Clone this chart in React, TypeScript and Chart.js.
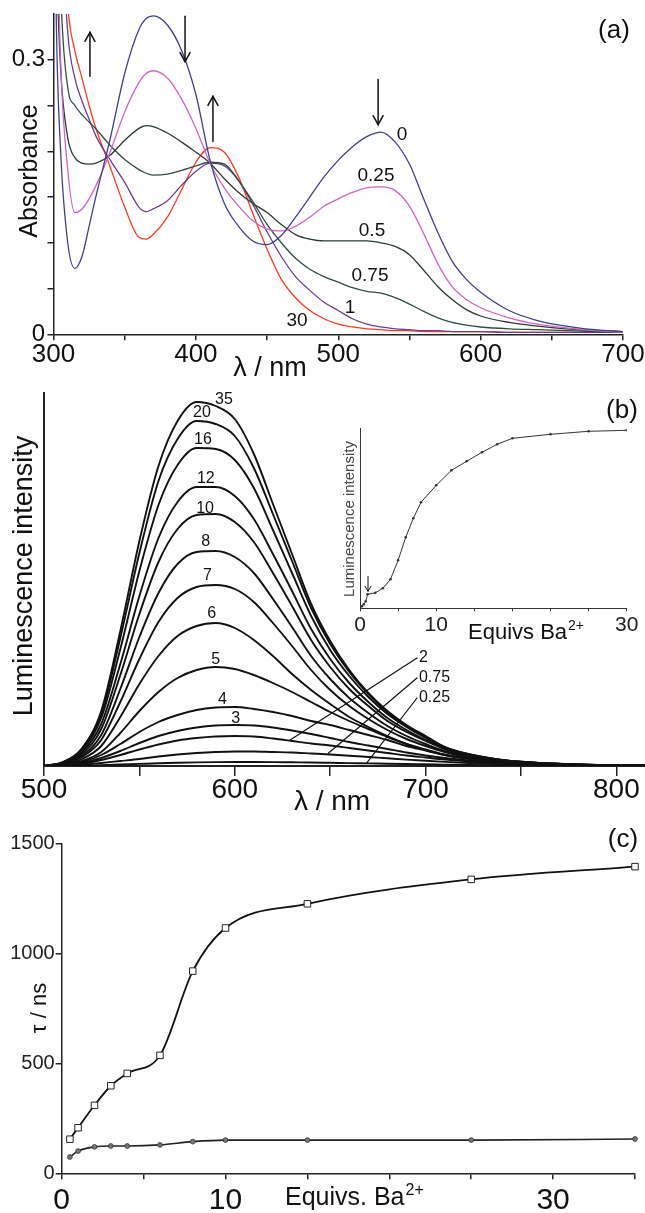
import { useEffect, useRef } from 'react';
import { Chart, registerables } from 'chart.js';

Chart.register(...registerables);

const FONT = '"Liberation Sans", Arial, Helvetica, sans-serif';
Chart.defaults.font.family = FONT;
const AXIS = '#222';
const TXT = '#111';

// ---------------- Panel (a): absorbance ----------------
const absWavelengths = [300, 302, 305, 310, 315, 320, 325, 330, 340, 350, 360, 365, 370, 380, 390, 400, 410, 420, 430, 440, 450, 460, 470, 480, 490, 500, 510, 520, 530, 540, 550, 560, 570, 580, 590, 600, 620, 640, 660, 680, 700];
const abs0 = [0.6, 0.34, 0.2, 0.1, 0.072, 0.085, 0.118, 0.152, 0.215, 0.285, 0.333, 0.345, 0.348, 0.338, 0.31, 0.262, 0.19, 0.143, 0.118, 0.102, 0.098, 0.108, 0.128, 0.15, 0.172, 0.19, 0.205, 0.216, 0.221, 0.21, 0.186, 0.148, 0.111, 0.08, 0.06, 0.046, 0.026, 0.015, 0.009, 0.005, 0.003];
const abs025 = [0.8, 0.5, 0.3, 0.18, 0.133, 0.137, 0.148, 0.163, 0.2, 0.243, 0.275, 0.285, 0.288, 0.28, 0.257, 0.225, 0.187, 0.16, 0.14, 0.124, 0.115, 0.113, 0.118, 0.128, 0.14, 0.148, 0.155, 0.16, 0.161, 0.157, 0.14, 0.11, 0.077, 0.052, 0.038, 0.029, 0.018, 0.011, 0.007, 0.004, 0.002];
const abs05 = [0.6, 0.42, 0.29, 0.215, 0.193, 0.187, 0.186, 0.187, 0.196, 0.212, 0.225, 0.228, 0.227, 0.22, 0.21, 0.199, 0.187, 0.17, 0.155, 0.143, 0.133, 0.12, 0.109, 0.104, 0.102, 0.102, 0.102, 0.102, 0.1, 0.096, 0.087, 0.07, 0.052, 0.038, 0.027, 0.02, 0.013, 0.009, 0.006, 0.004, 0.003];
const abs075 = [0.9, 0.6, 0.38, 0.27, 0.25, 0.24, 0.232, 0.224, 0.206, 0.191, 0.18, 0.176, 0.174, 0.175, 0.179, 0.184, 0.188, 0.186, 0.168, 0.145, 0.12, 0.1, 0.083, 0.071, 0.063, 0.057, 0.051, 0.047, 0.045, 0.04, 0.033, 0.025, 0.018, 0.013, 0.01, 0.008, 0.006, 0.005, 0.004, 0.003, 0.002];
const abs1 = [0.9, 0.7, 0.48, 0.33, 0.28, 0.255, 0.235, 0.216, 0.19, 0.166, 0.139, 0.134, 0.137, 0.146, 0.163, 0.178, 0.187, 0.184, 0.168, 0.142, 0.112, 0.085, 0.063, 0.048, 0.035, 0.026, 0.017, 0.011, 0.008, 0.006, 0.005, 0.004, 0.004, 0.003, 0.003, 0.003, 0.002, 0.002, 0.002, 0.002, 0.002];
const abs30 = [0.9, 0.7, 0.52, 0.36, 0.31, 0.28, 0.25, 0.224, 0.182, 0.139, 0.106, 0.104, 0.109, 0.128, 0.158, 0.188, 0.204, 0.199, 0.172, 0.132, 0.093, 0.06, 0.04, 0.026, 0.017, 0.011, 0.008, 0.006, 0.005, 0.004, 0.004, 0.003, 0.003, 0.003, 0.003, 0.003, 0.002, 0.002, 0.002, 0.002, 0.002];
const absLabels = ['0', '0.25', '0.5', '0.75', '1', '30'];

// ---------------- Panel (b): luminescence spectra ----------------
const lumWavelengths = [500, 510, 520, 530, 540, 550, 560, 570, 580, 590, 600, 610, 620, 630, 640, 650, 660, 670, 680, 690, 700, 710, 720, 740, 760, 780, 815];
const lum35 = [0, 4, 18, 55, 135, 225, 300, 345, 364, 360, 347, 312, 262, 212, 162, 125, 96, 73, 55, 41, 30, 19, 13, 6, 3, 1.5, 0.5];
const lum20 = [0, 4, 17, 52, 128, 213, 285, 327, 345, 342, 330, 298, 252, 205, 158, 122, 94, 72, 54, 40, 29, 19, 13, 6, 3, 1.5, 0.5];
const lum16 = [0, 3.5, 16, 48, 117, 195, 261, 301, 318, 317, 306, 278, 236, 193, 150, 116, 90, 69, 52, 39, 28, 18.5, 12.5, 6, 3, 1.5, 0.5];
const lum12 = [0, 3, 14, 42, 102, 170, 228, 264, 279, 279, 270, 247, 212, 175, 137, 107, 83, 64, 48, 36, 26, 17.5, 12, 5.5, 3, 1.5, 0.5];
const lum10 = [0, 3, 12.5, 37, 91, 152, 204, 237, 251, 252, 244, 224, 193, 160, 126, 99, 77, 60, 45, 34, 25, 17, 11.5, 5.5, 2.8, 1.4, 0.5];
const lum8 = [0, 2.5, 10.5, 31, 77, 129, 173, 202, 214, 215, 209, 193, 167, 139, 110, 87, 68, 53, 40, 30, 22, 15, 10.5, 5, 2.6, 1.3, 0.5];
const lum7 = [0, 2, 9, 26, 64, 107, 144, 168, 179, 181, 177, 164, 143, 120, 96, 76, 60, 47, 36, 27, 20, 14, 9.5, 4.5, 2.4, 1.2, 0.4];
const lum6 = [0, 1.5, 7, 20, 49, 82, 110, 130, 140, 143, 138, 126, 110, 92, 76, 62, 49, 39, 30, 22, 16, 11, 8, 4, 2, 1, 0.4];
const lum5 = [0, 1.2, 5, 14, 33, 55, 74, 88, 96, 99, 97, 91, 83, 74, 64, 54, 45, 37, 29, 22, 16.5, 11.5, 8, 4, 2, 1, 0.4];
const lum4 = [0, 1, 4, 11, 22, 34, 44, 51, 56, 58.5, 59, 57, 54, 50, 45, 41, 36, 31, 26, 20, 15.5, 11, 8, 4, 2, 1, 0.4];
const lum3 = [0, 0.8, 3, 8, 15, 23, 30, 35, 38.5, 40.5, 41, 40.5, 38.5, 35.5, 32, 28, 24, 20.5, 17, 13.5, 10.5, 8, 6, 3, 1.6, 0.8, 0.3];
const lum2 = [0, 0.6, 2.2, 6, 11, 16.5, 21.5, 25.5, 28, 29.5, 30, 29.5, 27.5, 25, 22.5, 20.5, 18, 15.5, 13, 10.5, 8.5, 6.5, 5, 2.5, 1.3, 0.7, 0.3];
const lum075 = [0, 0.4, 1.3, 3, 5, 7, 9.5, 11.5, 13, 14, 14.5, 14.5, 14, 13.5, 12.5, 11.5, 10.3, 9, 7.7, 6.4, 5.2, 4.1, 3.2, 1.8, 1, 0.5, 0.2];
const lum025 = [0, 0.1, 0.4, 0.9, 1.5, 2.1, 2.7, 3.2, 3.6, 3.9, 4, 4, 3.9, 3.7, 3.5, 3.2, 2.9, 2.6, 2.3, 2, 1.7, 1.4, 1.1, 0.7, 0.4, 0.2, 0.1];
const lumLabels = ['35', '20', '16', '12', '10', '8', '7', '6', '5', '4', '3', '2', '0.75', '0.25'];

// inset: peak intensity vs equivalents
const insetEquivs = [0, 0.25, 0.5, 0.75, 1, 2, 3, 4, 5, 6, 7, 8, 10, 12, 14, 16, 18, 20, 25, 30, 35];
const insetIntensity = [0, 2, 4, 7, 14, 15.5, 20, 29, 48, 71, 90, 106, 123, 138, 147, 156, 164, 170, 174, 177, 178];

// ---------------- Panel (c): lifetimes ----------------
const cEquivs = [0.5, 1, 2, 3, 4, 6, 8, 10, 15, 25, 35];
const tauLong = [155, 207, 309, 398, 454, 536, 919, 1115, 1225, 1336, 1394];
const tauShort = [74, 101, 120, 124, 124, 129, 144, 151, 151, 151, 156];

const toXY = (xs: number[], ys: number[]) => xs.map((x, i) => ({ x, y: ys[i] }));

function fixBox(prop: 'width' | 'height', size: number) {
  return (scale: any) => {
    scale[prop] = size;
    scale.paddingLeft = 0;
    scale.paddingRight = 0;
    scale.paddingTop = 0;
    scale.paddingBottom = 0;
  };
}

type Item = {
  type: 'text' | 'line' | 'arrow';
  data?: boolean;
  text?: string;
  sup?: string;
  x?: number; y?: number;
  x1?: number; y1?: number; x2?: number; y2?: number;
  size?: number; supSize?: number; supRise?: number;
  align?: CanvasTextAlign; baseline?: CanvasTextBaseline;
  rotate?: number; color?: string; width?: number; head?: number; headW?: number;
};

function overlay(items: Item[]) {
  return {
    id: 'overlay',
    afterDraw(chart: any) {
      const ctx: CanvasRenderingContext2D = chart.ctx;
      const sx = chart.scales.x;
      const sy = chart.scales.y;
      const P = (it: Item, x: number, y: number) =>
        it.data ? [sx.getPixelForValue(x), sy.getPixelForValue(y)] : [x, y];
      ctx.save();
      for (const it of items) {
        const color = it.color || TXT;
        ctx.strokeStyle = color;
        ctx.fillStyle = color;
        if (it.type === 'line' || it.type === 'arrow') {
          const [x1, y1] = P(it, it.x1!, it.y1!);
          const [x2, y2] = P(it, it.x2!, it.y2!);
          ctx.lineWidth = it.width || 1.2;
          ctx.lineCap = 'round';
          ctx.beginPath();
          ctx.moveTo(x1, y1);
          ctx.lineTo(x2, y2);
          ctx.stroke();
          if (it.type === 'arrow') {
            const ang = Math.atan2(y2 - y1, x2 - x1);
            const L = it.head || 9;
            const W = it.headW || 5;
            const bx = x2 - L * Math.cos(ang);
            const by = y2 - L * Math.sin(ang);
            const nx = -Math.sin(ang) * W;
            const ny = Math.cos(ang) * W;
            ctx.beginPath();
            ctx.moveTo(bx + nx, by + ny);
            ctx.lineTo(x2, y2);
            ctx.lineTo(bx - nx, by - ny);
            ctx.stroke();
          }
        } else {
          const [x, y] = P(it, it.x!, it.y!);
          ctx.save();
          ctx.translate(x, y);
          if (it.rotate) ctx.rotate(it.rotate);
          ctx.font = `${it.size || 16}px ${FONT}`;
          ctx.textAlign = it.align || 'center';
          ctx.textBaseline = it.baseline || 'middle';
          ctx.fillText(it.text!, 0, 0);
          if (it.sup) {
            const w = ctx.measureText(it.text!).width;
            ctx.font = `${it.supSize || 12}px ${FONT}`;
            ctx.textAlign = 'left';
            ctx.fillText(it.sup, w + 1, -(it.supRise || 8));
          }
          ctx.restore();
        }
      }
      ctx.restore();
    },
  };
}

const baseOptions = (padding: any) => ({
  responsive: false,
  animation: false as const,
  events: [] as any[],
  layout: { padding },
  plugins: { legend: { display: false }, tooltip: { enabled: false } },
});

// ---------- annotation layouts ----------
const itemsA: Item[] = [
  { type: 'text', text: 'Absorbance', x: 30, y: 171, rotate: -Math.PI / 2, size: 25 },
  { type: 'text', text: 'λ / nm', x: 270, y: 376, size: 27, baseline: 'alphabetic' },
  { type: 'text', text: '(a)', x: 614, y: 31, size: 26 },
  { type: 'text', data: true, text: absLabels[0], x: 544.8, y: 0.218, size: 19 },
  { type: 'text', data: true, text: absLabels[1], x: 526.5, y: 0.173, size: 19 },
  { type: 'text', data: true, text: absLabels[2], x: 523.7, y: 0.113, size: 19 },
  { type: 'text', data: true, text: absLabels[3], x: 522.3, y: 0.064, size: 19 },
  { type: 'text', data: true, text: absLabels[4], x: 508.2, y: 0.029, size: 19 },
  { type: 'text', data: true, text: absLabels[5], x: 471, y: 0.0146, size: 19 },
  { type: 'arrow', data: true, x1: 325.6, y1: 0.282, x2: 325.6, y2: 0.33, width: 1.5 },
  { type: 'arrow', data: true, x1: 392.4, y1: 0.3475, x2: 392.4, y2: 0.298, width: 1.5 },
  { type: 'arrow', data: true, x1: 412, y1: 0.2106, x2: 412, y2: 0.26, width: 1.5 },
  { type: 'arrow', data: true, x1: 528, y1: 0.2785, x2: 528, y2: 0.229, width: 1.5 },
];

const lumLabelPos = [
  [594.3, 366], [582.8, 353], [583.3, 326], [584.8, 287], [584.4, 257], [584.8, 224],
  [585.7, 190.5], [587.9, 152], [590, 106], [593.5, 66], [600.5, 47],
];
const leaderPos = [
  [629, 26, 695.5, 108],
  [649, 12.7, 695.5, 88],
  [669, 2.7, 695.5, 68],
];

const itemsB: Item[] = [
  { type: 'text', text: 'Luminescence intensity', x: 25, y: 191, rotate: -Math.PI / 2, size: 27 },
  { type: 'text', text: 'λ / nm', x: 332, y: 425, size: 28, baseline: 'alphabetic' },
  { type: 'text', text: '(b)', x: 622, y: 26, size: 26 },
  ...lumLabelPos.map((p, i) => ({ type: 'text' as const, data: true, text: lumLabels[i], x: p[0], y: p[1], size: 16 })),
  ...leaderPos.map((l) => ({ type: 'line' as const, data: true, x1: l[0], y1: l[1], x2: l[2], y2: l[3], width: 1.2 })),
  ...leaderPos.map((l, i) => ({ type: 'text' as const, data: true, text: lumLabels[11 + i], x: l[2] + 1, y: l[3], size: 16, align: 'left' as CanvasTextAlign })),
];

const itemsInset: Item[] = [
  { type: 'text', text: 'Luminescence intensity', x: 20, y: 104, rotate: -Math.PI / 2, size: 15, color: '#444' },
  { type: 'text', text: 'Equivs Ba', sup: '2+', x: 138, y: 224, align: 'left', baseline: 'alphabetic', size: 22, supSize: 14, supRise: 9 },
  { type: 'arrow', data: true, x1: 1.05, y1: 32, x2: 1.05, y2: 17, width: 1, head: 5, headW: 3 },
];

const itemsC: Item[] = [
  { type: 'text', text: 'τ / ns', x: 40, y: 186, rotate: -Math.PI / 2, size: 22 },
  { type: 'text', text: 'Equivs. Ba', sup: '2+', x: 285, y: 383, align: 'left', baseline: 'alphabetic', size: 25, supSize: 16, supRise: 10 },
  { type: 'text', text: '(c)', x: 623, y: 18, size: 26 },
];

// ---------- chart builders ----------
function buildA() {
  const series = [
    { y: abs0, color: '#3f3f8f' },
    { y: abs025, color: '#d064c8' },
    { y: abs05, color: '#2b3a33' },
    { y: abs075, color: '#2f4f3c' },
    { y: abs1, color: '#6a3d8f' },
    { y: abs30, color: '#ff3b1f' },
  ];
  return {
    type: 'line',
    data: {
      datasets: series.map((s, i) => ({
        label: absLabels[i],
        data: toXY(absWavelengths, s.y),
        borderColor: s.color,
        borderWidth: 1.3,
        pointRadius: 0,
        cubicInterpolationMode: 'monotone',
        fill: false,
      })),
    },
    options: {
      ...baseOptions({ left: 0, top: 14, right: 22, bottom: 0 }),
      scales: {
        x: {
          type: 'linear', min: 300, max: 700,
          afterFit: fixBox('height', 50.7),
          border: { display: true, color: AXIS, width: 1.5 },
          grid: { drawOnChartArea: false, drawTicks: true, tickLength: 6, color: AXIS, lineWidth: 1.5 },
          ticks: {
            stepSize: 50, includeBounds: false, autoSkip: false, maxRotation: 0, padding: 2, color: TXT,
            font: { size: 26, lineHeight: 1 },
            callback: (v: number) => (v % 100 === 0 ? String(v) : ''),
          },
        },
        y: {
          type: 'linear', min: 0, max: 0.35,
          afterFit: fixBox('width', 53.5),
          border: { display: true, color: AXIS, width: 1.5 },
          grid: {
            drawOnChartArea: false, drawTicks: true, tickLength: 6, lineWidth: 1.5,
            color: (c: any) => (c.tick && c.tick.value > 0.34 ? 'rgba(0,0,0,0)' : AXIS),
          },
          ticks: {
            stepSize: 0.05, includeBounds: false, autoSkip: false, padding: 2.5, color: TXT,
            font: { size: 24, lineHeight: 1 },
            callback: (v: number) => (Math.abs(v) < 1e-9 ? '0' : Math.abs(v - 0.3) < 1e-9 ? '0.3' : ''),
          },
        },
      },
    },
    plugins: [overlay(itemsA)],
  };
}

function buildB() {
  const series = [lum35, lum20, lum16, lum12, lum10, lum8, lum7, lum6, lum5, lum4, lum3, lum2, lum075, lum025];
  return {
    type: 'line',
    data: {
      datasets: series.map((s, i) => ({
        label: lumLabels[i],
        data: toXY(lumWavelengths, s),
        borderColor: '#111',
        borderWidth: 1.9,
        pointRadius: 0,
        cubicInterpolationMode: 'monotone',
        fill: false,
      })),
    },
    options: {
      ...baseOptions({ left: 0, top: 8, right: 0, bottom: 0 }),
      scales: {
        x: {
          type: 'linear', min: 500, max: 815,
          afterFit: fixBox('height', 56),
          border: { display: true, color: AXIS, width: 2 },
          grid: { drawOnChartArea: false, drawTicks: true, tickLength: 10, color: AXIS, lineWidth: 1.5 },
          ticks: {
            stepSize: 50, includeBounds: false, autoSkip: false, maxRotation: 0, padding: 0, color: TXT,
            font: { size: 28, lineHeight: 1 },
            callback: (v: number) => (v % 100 === 0 ? String(v) : ''),
          },
        },
        y: {
          type: 'linear', min: 0, max: 373,
          afterFit: fixBox('width', 44),
          border: { display: true, color: AXIS, width: 2 },
          grid: { display: false },
          ticks: { display: false },
        },
      },
    },
    plugins: [overlay(itemsB)],
  };
}

function buildInset() {
  return {
    type: 'line',
    data: {
      datasets: [{
        label: 'inset',
        data: toXY(insetEquivs, insetIntensity),
        borderColor: '#333',
        borderWidth: 1,
        pointRadius: 1.3,
        pointBackgroundColor: '#333',
        pointBorderWidth: 0,
        tension: 0,
        fill: false,
      }],
    },
    options: {
      ...baseOptions({ left: 0, top: 13.3, right: 18.3, bottom: 0 }),
      scales: {
        x: {
          type: 'linear', min: 0, max: 35,
          afterFit: fixBox('height', 41.7),
          border: { display: true, color: '#333', width: 1 },
          grid: { drawOnChartArea: false, drawTicks: true, tickLength: 3, color: '#333', lineWidth: 1 },
          ticks: {
            stepSize: 5, includeBounds: false, autoSkip: false, maxRotation: 0, padding: 3, color: '#222',
            font: { size: 21, lineHeight: 1 },
            callback: (v: number) => (v === 0 ? '0' : v === 10 ? '10' : v === 35 ? '30' : ''),
          },
        },
        y: {
          type: 'linear', min: 0, max: 180,
          afterFit: fixBox('width', 30),
          border: { display: true, color: '#333', width: 1 },
          grid: { display: false },
          ticks: { display: false },
        },
      },
    },
    plugins: [overlay(itemsInset)],
  };
}

function buildC() {
  return {
    type: 'line',
    data: {
      datasets: [
        {
          label: 'long',
          data: toXY(cEquivs, tauLong),
          borderColor: '#111',
          borderWidth: 1.8,
          pointStyle: 'rect',
          pointRadius: 4.6,
          pointBackgroundColor: '#fff',
          pointBorderColor: '#222',
          pointBorderWidth: 1,
          cubicInterpolationMode: 'monotone',
          fill: false,
          clip: false,
        },
        {
          label: 'short',
          data: toXY(cEquivs, tauShort),
          borderColor: '#222',
          borderWidth: 1.6,
          pointStyle: 'circle',
          pointRadius: 2.4,
          pointBackgroundColor: '#777',
          pointBorderColor: '#333',
          pointBorderWidth: 0.8,
          cubicInterpolationMode: 'monotone',
          fill: false,
          clip: false,
        },
      ],
    },
    options: {
      ...baseOptions({ left: 0, top: 21.3, right: 10, bottom: 0 }),
      scales: {
        x: {
          type: 'linear', min: 0, max: 35,
          afterFit: fixBox('height', 39.7),
          border: { display: true, color: AXIS, width: 1.5 },
          grid: { drawOnChartArea: false, drawTicks: true, tickLength: 6, color: AXIS, lineWidth: 1.5 },
          ticks: {
            stepSize: 5, includeBounds: false, autoSkip: false, maxRotation: 0, padding: 6, color: TXT,
            font: { size: 30, lineHeight: 1 },
            callback: (v: number) => (v === 0 || v === 10 || v === 30 ? String(v) : ''),
          },
        },
        y: {
          type: 'linear', min: 0, max: 1500,
          afterFit: fixBox('width', 61.7),
          border: { display: true, color: AXIS, width: 1.5 },
          grid: { drawOnChartArea: false, drawTicks: true, tickLength: 6, color: AXIS, lineWidth: 1.5 },
          ticks: {
            stepSize: 500, includeBounds: false, autoSkip: false, padding: 1, color: '#222',
            font: { size: 20, lineHeight: 1 },
            callback: (v: number) => String(v),
          },
        },
      },
    },
    plugins: [overlay(itemsC)],
  };
}

function ChartCanvas(props: { left: number; top: number; width: number; height: number; build: () => any }) {
  const { left, top, width, height, build } = props;
  const ref = useRef<HTMLCanvasElement | null>(null);
  useEffect(() => {
    if (!ref.current) return;
    const chart = new Chart(ref.current, build());
    return () => chart.destroy();
  }, []);
  return (
    <canvas
      ref={ref}
      width={width}
      height={height}
      style={{ position: 'absolute', left, top, width, height }}
    />
  );
}

export default function App() {
  return (
    <div style={{ position: 'absolute', left: 0, top: 0, width: 645, height: 1213, background: '#fff', overflow: 'hidden' }}>
      <ChartCanvas left={0} top={0} width={645} height={385} build={buildA} />
      <ChartCanvas left={0} top={385} width={645} height={437} build={buildB} />
      <ChartCanvas left={330} top={415} width={315} height={235} build={buildInset} />
      <ChartCanvas left={0} top={822} width={645} height={391} build={buildC} />
    </div>
  );
}
